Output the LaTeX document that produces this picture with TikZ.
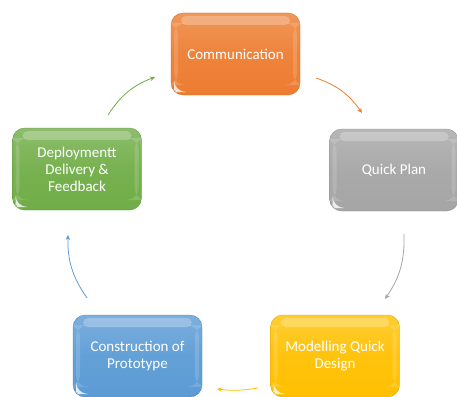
\documentclass[tikz,border=0pt]{standalone}
\usepackage{fontspec}
\setmainfont{Carlito}
\usetikzlibrary{arrows.meta}
\definecolor{corange}{HTML}{ED7D31}
\definecolor{cgray}{HTML}{A5A5A5}
\definecolor{cgreen}{HTML}{70AD47}
\definecolor{cblue}{HTML}{5B9BD5}
\definecolor{cyellow}{HTML}{FFC000}
\tikzset{
  box/.style={draw=#1!85!black, line width=0.3pt, rounded corners=12pt,
    minimum width=129pt, minimum height=82pt, inner sep=2pt,
    top color=#1!80!white, bottom color=#1, middle color=#1!95!white,
    text=white, align=center,
    font=\fontsize{15}{17}\selectfont,
    path picture={
      \fill[white, opacity=0.25, rounded corners=5pt]
        ([xshift=10pt,yshift=-3pt]path picture bounding box.north west)
        rectangle ([xshift=-10pt,yshift=-12pt]path picture bounding box.north east);
      \fill[white, opacity=0.15]
        ([xshift=3pt,yshift=-10pt]path picture bounding box.north west)
        rectangle ([xshift=7pt,yshift=10pt]path picture bounding box.south west);
      \fill[white, opacity=0.15]
        ([xshift=-3pt,yshift=-10pt]path picture bounding box.north east)
        rectangle ([xshift=-7pt,yshift=10pt]path picture bounding box.south east);
      \fill[white, opacity=0.8]
        ([xshift=3pt,yshift=3pt]path picture bounding box.south west)
        -- ++(0,9pt) to[bend right=30] ++(9pt,-9pt) -- cycle;
    }},
  cyc/.style={draw=#1, line width=0.8pt, -{Stealth[length=5pt,width=4.5pt]}, bend left=18}
}
\begin{document}
\begin{tikzpicture}[x=1pt,y=-1pt]
\useasboundingbox (0,0) rectangle (457,396);
\begin{scope}
\clip (0,0) rectangle (457,396);
\node[box=corange] (comm) at (235.5,54) {Communication};
\node[box=cgray] (plan) at (394,170) {Quick Plan};
\node[box=cgreen] (deploy) at (77,169) {Deploymentt\\Delivery \&\\Feedback};
\node[box=cblue] (constr) at (137.5,356) {Construction of\\Prototype};
\node[box=cyellow] (model) at (335,356) {Modelling Quick\\Design};
\end{scope}
\coordinate (g1) at (108,115); \coordinate (g2) at (155,77);
\coordinate (o1) at (316,78);  \coordinate (o2) at (362,113);
\coordinate (p1) at (404,234); \coordinate (p2) at (385,299);
\coordinate (y1) at (258,388); \coordinate (y2) at (217,389);
\coordinate (b1) at (87,298);  \coordinate (b2) at (68,235);
\draw[cyc=cgreen] (g1) to (g2);
\draw[cyc=corange] (o1) to (o2);
\draw[cyc=cgray] (p1) to (p2);
\draw[cyc=cyellow, bend left=8] (y1) to (y2);
\draw[cyc=cblue] (b1) to (b2);
\end{tikzpicture}
\end{document}
